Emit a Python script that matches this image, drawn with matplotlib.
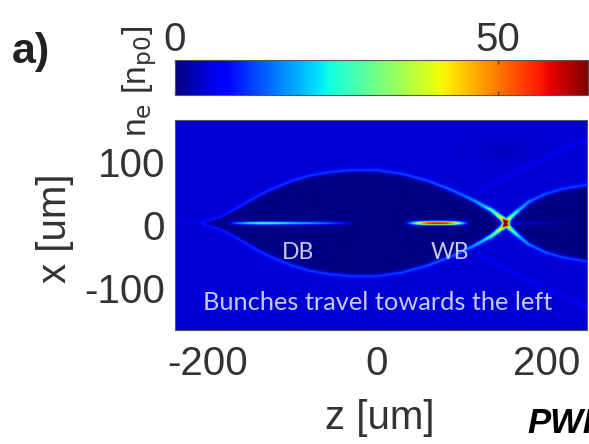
import numpy as np
import matplotlib
matplotlib.use("Agg")
import matplotlib.pyplot as plt

# values (z, x in um, density in n_p0)
z_limits = [-238, 248]
x_limits = [-167, 167]
cbar_limits = [0, 64]
cbar_ticks = [0, 50]
z_ticks = [-200, 0, 200]
x_ticks = [-100, 0, 100]

background_level = 4.8
cavity_level = 0.3
axis_offset = 3.0

# first bubble: half width of the cavity along z
bubble_z = [-207, -185, -160, -140, -120, -100, -80, -55, -30, 0, 30, 60, 90, 115, 135, 153]
bubble_r = [0, 8, 26, 42, 55, 66, 74, 80, 83, 83, 77, 66, 50, 34, 19, 0]
sheath_z = [-207, -150, -100, -50, 0, 50, 100, 125, 140, 148, 153]
sheath_amp = [4, 6, 7, 7, 7, 8, 10, 16, 27, 40, 56]

# second bubble behind the density spike
bubble2_z = [153, 165, 180, 200, 220, 250]
bubble2_r = [0, 15, 32, 45, 53, 60]
sheath2_z = [153, 160, 170, 185, 210, 250]
sheath2_amp = [42, 26, 15, 10, 8, 7]

# faint outer lines leaving the crossing point
outer_z = [120, 160, 200, 250]
outer_r = [50, 78, 104, 136]
outer_amp = 1.6

# drive bunch (DB) and witness bunch (WB) on axis
db_z = [-178, -165, -150, -135, -120, -100, -80, -60, -40, -26]
db_amp = [3, 16, 24, 29, 27, 22, 19, 15, 9, 2]
wb_z = [33, 42, 52, 62, 72, 82, 92, 100, 110]
wb_amp = [3, 22, 48, 60, 62, 60, 48, 24, 3]

spike_z = 152
spike_amp = 45
streak_z = [155, 175, 200, 230]
streak_amp = [6, 5, 3, 1]


def sheath_band(zz, xx, zs, rs, amps_z, amps, width):
    r = np.interp(zz[0], zs, rs)
    slope = np.gradient(r, zz[0])
    d = (np.abs(xx) - r) / np.sqrt(1 + slope ** 2)
    amp = np.interp(zz[0], amps_z, amps, left=0, right=0)
    inside = np.interp(zz[0], zs, rs, left=-1, right=-1) >= 0
    band = amp * np.exp(-((d - 1.2) / width) ** 2) * inside
    return band, (np.abs(xx) < r) & inside


z = np.linspace(z_limits[0], z_limits[1], 520)
x = np.linspace(x_limits[0], x_limits[1], 360)
Z, X = np.meshgrid(z, x)
Xc = X - axis_offset

dens = np.full(Z.shape, background_level)

b1, in1 = sheath_band(Z, Xc, bubble_z, bubble_r, sheath_z, sheath_amp, 3.4)
b2, in2 = sheath_band(Z, Xc, bubble2_z, bubble2_r, sheath2_z, sheath2_amp, 3.4)
dens[in1 | in2] = cavity_level
dens += b1 + b2

# outer faint lines
r_out = np.interp(Z[0], outer_z, outer_r)
on = (Z[0] >= outer_z[0])
dens += outer_amp * np.exp(-((np.abs(Xc) - r_out) / 4.0) ** 2) * on

# faint line ahead of the bubble tip and streak behind the spike
dens += 3.0 * np.exp(-(Xc / 1.5) ** 2) * ((Z > -232) & (Z < -200))
dens += np.interp(Z, streak_z, streak_amp, left=0, right=0) * np.exp(-(Xc / 2.5) ** 2)

# bunches
dens += np.interp(Z, db_z, db_amp, left=0, right=0) * np.exp(-(Xc / 2.6) ** 2)
dens += np.interp(Z, wb_z, wb_amp, left=0, right=0) * np.exp(-(Xc / 2.9) ** 2)

# density spike where the sheath crosses the axis
dens += spike_amp * np.exp(-((Z - spike_z) / 3.5) ** 2 - (Xc / 5.0) ** 2)

# slightly darker patch above the crossing
dens -= 1.0 * np.exp(-((Z - 150) / 35) ** 2 - ((Xc - 115) / 15) ** 2)

dens = np.clip(dens, 0, cbar_limits[1])

plt.rcParams['font.family'] = ['Liberation Sans', 'DejaVu Sans']
plt.rcParams['axes.unicode_minus'] = False
fig = plt.figure(figsize=(5.89, 4.44), dpi=100)

W, H = 589.0, 444.0
ax = fig.add_axes([175 / W, 1 - 330 / H, 412 / W, 210 / H])
im = ax.imshow(dens, extent=[z[0], z[-1], x[0], x[-1]], origin='lower',
               aspect='auto', cmap='jet', vmin=cbar_limits[0], vmax=cbar_limits[1],
               interpolation='bilinear')
ax.set_xlim(z_limits)
ax.set_ylim(x_limits)
ax.set_xticks(z_ticks)
ax.set_yticks(x_ticks)
ax.tick_params(length=0, labelsize=29, labelcolor='#333333', pad=11)
ax.tick_params(axis='y', pad=7)
for s in ax.spines.values():
    s.set_color('#555566')
    s.set_linewidth(0.8)

txt_color = '#c8c8f0'
ax.text(0.2985, 0.367, 'DB', transform=ax.transAxes, ha='center', va='center',
        color=txt_color, fontsize=16.5, family=['Lato', 'DejaVu Sans'])
ax.text(0.6675, 0.367, 'WB', transform=ax.transAxes, ha='center', va='center',
        color=txt_color, fontsize=16.5, family=['Lato', 'DejaVu Sans'])
ax.text(0.493, 0.133, 'Bunches travel towards the left', transform=ax.transAxes,
        ha='center', va='center', color=txt_color, fontsize=18.3,
        family=['Lato', 'DejaVu Sans'])

cax = fig.add_axes([175 / W, 1 - 95 / H, 413 / W, 35 / H])
cb = fig.colorbar(im, cax=cax, orientation='horizontal', ticks=cbar_ticks)
cax.tick_params(top=True, bottom=True, labeltop=True, labelbottom=False,
                direction='in', length=3, width=1, color='#444444',
                labelsize=29, labelcolor='#333333', pad=1)
cb.outline.set_edgecolor('#555555')
cb.outline.set_linewidth(0.8)

fig.text(140 / W, 1 - 137 / H, r'n$_\mathrm{e}$ [n$_\mathrm{p0}$]', rotation=90,
         ha='center', va='bottom', fontsize=24, color='#333333')
fig.text(55 / W, 1 - 228 / H, 'x [um]', rotation=90, ha='center', va='center',
         fontsize=29, color='#333333')
fig.text(380 / W, 1 - 418 / H, 'z [um]', ha='center', va='center',
         fontsize=29, color='#333333')
fig.text(12 / W, 1 - 63 / H, 'a)', ha='left', va='baseline', fontsize=31,
         fontweight='bold', color='#222222')
fig.text(527 / W, 1 - 433 / H, 'PWFA', ha='left', va='baseline', fontsize=25,
         fontweight='bold', fontstyle='italic', color='black')

fig.savefig('out.png', dpi=100)
